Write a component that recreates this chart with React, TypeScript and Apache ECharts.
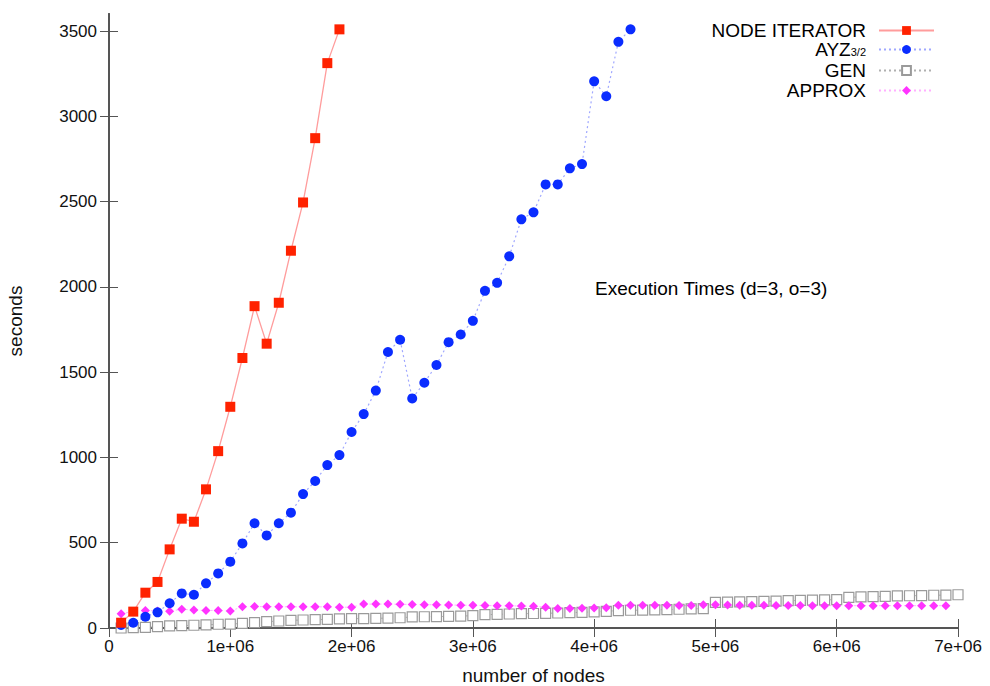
import React, { useEffect, useRef } from "react";
import * as echarts from "echarts";

const nodeCounts = [
  100000, 200000, 300000, 400000, 500000, 600000, 700000, 800000, 900000, 1000000,
  1100000, 1200000, 1300000, 1400000, 1500000, 1600000, 1700000, 1800000, 1900000, 2000000,
  2100000, 2200000, 2300000, 2400000, 2500000, 2600000, 2700000, 2800000, 2900000, 3000000,
  3100000, 3200000, 3300000, 3400000, 3500000, 3600000, 3700000, 3800000, 3900000, 4000000,
  4100000, 4200000, 4300000, 4400000, 4500000, 4600000, 4700000, 4800000, 4900000, 5000000,
  5100000, 5200000, 5300000, 5400000, 5500000, 5600000, 5700000, 5800000, 5900000, 6000000,
  6100000, 6200000, 6300000, 6400000, 6500000, 6600000, 6700000, 6800000, 6900000, 7000000,
];

const nodeIteratorSeconds = [
  31, 96, 207, 270, 461, 641, 623, 813, 1037, 1297,
  1583, 1887, 1667, 1907, 2212, 2495, 2872, 3312, 3510,
];

const ayzSeconds = [
  18, 31, 66, 92, 145, 203, 195, 262, 320, 389,
  496, 614, 543, 614, 676, 785, 862, 955, 1014, 1149,
  1254, 1392, 1618, 1690, 1346, 1438, 1542, 1676, 1721, 1801,
  1977, 2024, 2179, 2396, 2437, 2601, 2601, 2695, 2720, 3205,
  3118, 3437, 3510,
];

const genSeconds = [
  0, 2, 4, 8, 12, 14, 16, 18, 22, 23,
  27, 31, 37, 41, 45, 47, 49, 50, 53, 55,
  55, 57, 58, 60, 65, 66, 67, 68, 70, 72,
  78, 80, 82, 84, 85, 86, 88, 90, 92, 95,
  98, 102, 104, 105, 106, 108, 110, 112, 114, 150,
  152, 153, 155, 156, 158, 160, 162, 163, 165, 166,
  180, 182, 184, 186, 188, 189, 190, 192, 193, 195,
];

const approxSeconds = [
  84, 96, 103, 100, 98, 110, 105, 103, 103, 99,
  125, 126, 125, 125, 124, 124, 124, 124, 122, 122,
  140, 140, 140, 139, 138, 137, 136, 135, 134, 133,
  132, 131, 130, 129, 128, 122, 115, 115, 116, 117,
  118, 133, 134, 134, 133, 133, 132, 132, 136, 136,
  135, 134, 133, 133, 132, 132, 132, 131, 131, 131,
  131, 131, 131, 131, 131, 131, 131, 131, 131,
];

const yTicks = [0, 500, 1000, 1500, 2000, 2500, 3000, 3500];
const seriesNames = ["NODE ITERATOR", "AYZ", "GEN", "APPROX"];
const annotation = "Execution Times (d=3, o=3)";

const FONT = "'Liberation Sans', Arial, Helvetica, sans-serif";
const FS = 17;
const FS_BIG = 19;

function pairs(values: number[]) {
  return values.map((v, i) => [nodeCounts[i], v]);
}

export default function App() {
  const ref = useRef<HTMLDivElement>(null);
  useEffect(() => {
    if (!ref.current) return;
    const chart = echarts.init(ref.current, undefined, { renderer: "svg" });
    const axisLine = { show: true, lineStyle: { color: "#555", width: 2 } };
    const tick = { show: true, inside: true, length: 9, lineStyle: { color: "#555", width: 1 } };
    const xLabel = (v: number) => (v === 0 ? "0" : `${v / 1e6}e+06`);
    const rowTops = [21, 40, 61, 81];
    chart.setOption({
      animation: false,
      backgroundColor: "#fff",
      textStyle: { fontFamily: FONT },
      grid: {
        left: 109, right: 32, top: 14, bottom: 58,
        containLabel: false, outerBoundsMode: "none",
      },
      xAxis: [
        {
          type: "value", min: 0, max: 7000000, interval: 1000000, position: "bottom",
          name: "number of nodes", nameLocation: "middle", nameGap: 38,
          nameTextStyle: { fontSize: FS_BIG, color: "#111", fontFamily: FONT },
          axisLine, axisTick: tick, splitLine: { show: false },
          axisLabel: { formatter: xLabel, fontSize: FS, color: "#111", margin: 10, fontFamily: FONT },
        },
        {
          type: "value", min: 0, max: 7000000, interval: 1000000, position: "top",
          axisLine, axisTick: tick, splitLine: { show: false }, axisLabel: { show: false },
        },
      ],
      yAxis: [
        {
          type: "value", min: 0, max: 3600, interval: 500, position: "left",
          name: "seconds", nameLocation: "middle", nameGap: 84,
          nameTextStyle: { fontSize: FS_BIG, color: "#111", fontFamily: FONT },
          axisLine, axisTick: { ...tick, customValues: yTicks }, splitLine: { show: false },
          axisLabel: {
            customValues: yTicks,
            formatter: (v: number) => (v % 500 === 0 ? String(v) : ""),
            fontSize: FS, color: "#111", margin: 12, fontFamily: FONT,
          },
        },
        {
          type: "value", min: 0, max: 3600, interval: 500, position: "right",
          axisLine, axisTick: { ...tick, customValues: yTicks }, splitLine: { show: false },
          axisLabel: { show: false },
        },
      ],
      legend: seriesNames.map((n, i) => ({
        data: [n],
        right: 55,
        top: rowTops[i],
        align: "right",
        orient: "vertical",
        itemWidth: 55,
        itemHeight: 11,
        padding: 0,
        selectedMode: false,
        formatter: (name: string) => (name === "AYZ" ? "AYZ{sub|3/2}" : name),
        textStyle: {
          fontSize: FS_BIG, color: "#000", fontFamily: FONT, padding: [0, 8, 0, 0],
          rich: { sub: { fontSize: 11, color: "#000", fontFamily: FONT, padding: [5, 0, 0, 0] } },
        },
      })),
      graphic: [
        {
          type: "text", left: 595, top: 279,
          style: { text: annotation, fontSize: FS_BIG, fill: "#000", fontFamily: FONT },
        },
      ],
      series: [
        {
          name: "GEN", type: "line", data: pairs(genSeconds), xAxisIndex: 0, yAxisIndex: 0,
          symbol: "rect", symbolSize: 10, showAllSymbol: true, clip: false,
          lineStyle: { color: "#b0b0b0", width: 1, type: [2, 3] },
          itemStyle: { color: "#fff", borderColor: "#9a9a9a", borderWidth: 1.2 },
        },
        {
          name: "APPROX", type: "line", data: pairs(approxSeconds), xAxisIndex: 0, yAxisIndex: 0,
          symbol: "diamond", symbolSize: 9, showAllSymbol: true, clip: false,
          lineStyle: { color: "#ffb0ff", width: 1, type: [2, 3] },
          itemStyle: { color: "#ff33ff" },
        },
        {
          name: "AYZ", type: "line", data: pairs(ayzSeconds), xAxisIndex: 0, yAxisIndex: 0,
          symbol: "circle", symbolSize: 10, showAllSymbol: true, clip: false,
          lineStyle: { color: "#a0a8ff", width: 1.2, type: [2, 3] },
          itemStyle: { color: "#0a2cff" },
        },
        {
          name: "NODE ITERATOR", type: "line", data: pairs(nodeIteratorSeconds), xAxisIndex: 0, yAxisIndex: 0,
          symbol: "rect", symbolSize: 10, showAllSymbol: true, clip: false,
          lineStyle: { color: "#ff9c9c", width: 1.3 },
          itemStyle: { color: "#ff2200" },
        },
      ],
    });
    return () => chart.dispose();
  }, []);
  return (
    <div
      ref={ref}
      style={{ position: "fixed", left: 0, top: 0, width: 990, height: 686 }}
    />
  );
}
